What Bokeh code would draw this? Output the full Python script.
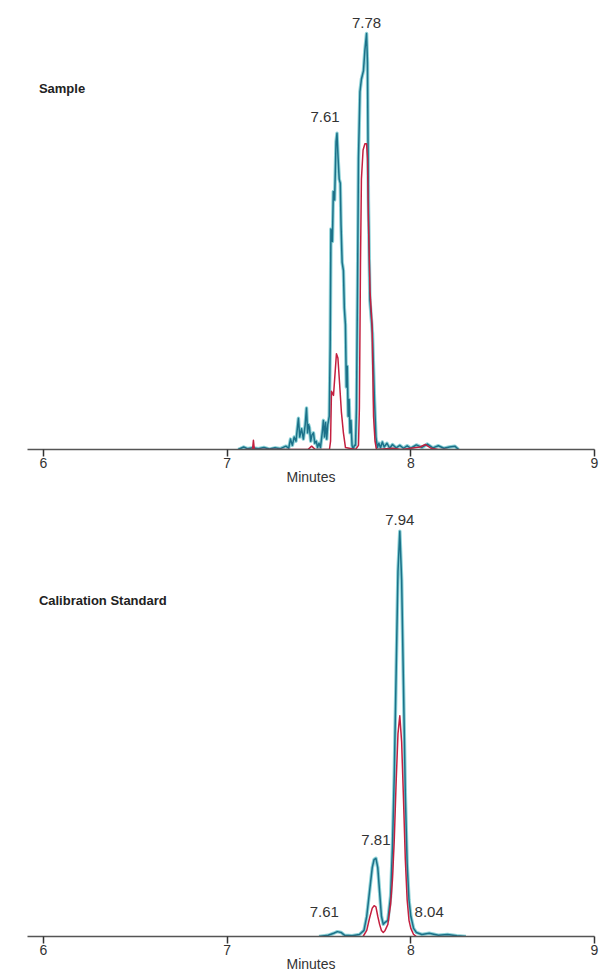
from bokeh.plotting import figure
from bokeh.models import Range1d, FixedTicker, Label, ColumnDataSource
from bokeh.layouts import column
from bokeh.embed import file_html
from bokeh.resources import INLINE
from bokeh.core.properties import value

FONT = "Liberation Sans"

# ---------------- data ----------------
x_ticks = [6, 7, 8, 9]
x_axis_title = "Minutes"

sample_title = "Sample"
sample_teal_x = [7.06, 7.09, 7.11, 7.14, 7.17, 7.20, 7.23, 7.26, 7.29, 7.32, 7.335, 7.345, 7.355, 7.365,
                 7.375, 7.382, 7.388, 7.395, 7.405, 7.415, 7.425, 7.432, 7.438, 7.443, 7.448, 7.455,
                 7.462, 7.470, 7.477, 7.485, 7.492, 7.500, 7.508, 7.515, 7.520, 7.524, 7.530, 7.536,
                 7.542, 7.548, 7.556, 7.561, 7.565, 7.573, 7.578, 7.585, 7.593, 7.598, 7.604, 7.610,
                 7.616, 7.620, 7.626, 7.633, 7.638, 7.644, 7.649, 7.654, 7.659, 7.664, 7.669, 7.674,
                 7.680, 7.686, 7.693, 7.699, 7.704, 7.710, 7.715, 7.723, 7.731, 7.742, 7.750, 7.759,
                 7.764, 7.769, 7.777, 7.791, 7.802, 7.810, 7.818, 7.826, 7.835, 7.845, 7.855, 7.87,
                 7.885, 7.90, 7.92, 7.94, 7.96, 7.98, 8.00, 8.03, 8.06, 8.09, 8.12, 8.15, 8.18, 8.21,
                 8.24, 8.26]
sample_teal_y = [0, 0.6, 0.2, 0.4, 0.2, 0.5, 0.1, 0.4, 0.2, 0.8, 0.3, 2.5, 1, 3,
                 2, 5, 7.5, 3, 5, 2.5, 6, 10, 4, 6, 5.3, 2,
                 3.5, 4, 1.5, 2, 0.5, 1.5, 0.5, 3, 5, 7, 3, 6.5,
                 2.5, 6, 8, 25, 53, 50, 62, 60, 74, 76, 70, 65,
                 64, 54, 45, 43, 34, 30, 15, 20, 8, 12, 4, 7,
                 1, 0, 1, 1, 10, 40, 70, 86, 89, 91, 96, 100,
                 93, 60, 36, 28, 12, 3, 0.5, 1.5, 0.4, 1.8, 0.6, 1.5,
                 0.3, 1.2, 0.4, 1.0, 0.3, 0.9, 0.3, 1.1, 0.5, 1.3, 0.4, 0.9, 0.3, 0.6,
                 0.8, 0]
sample_red_x = [7.10, 7.138, 7.143, 7.148, 7.30, 7.44, 7.46, 7.48, 7.557, 7.563, 7.568, 7.579,
                7.587, 7.595, 7.603, 7.612, 7.622, 7.633, 7.644, 7.699, 7.715, 7.720, 7.726,
                7.731, 7.740, 7.750, 7.759, 7.764, 7.769, 7.778, 7.789, 7.797, 7.805, 7.813,
                7.90, 7.95, 8.05, 8.08, 8.11, 8.15, 8.20]
sample_red_y = [0, 0, 2.2, 0, 0, 0, 0.8, 0, 0, 2, 14, 13,
                18, 23, 22, 16, 9, 4, 0.5, 0, 1, 10, 45,
                65, 72, 73.5, 73.5, 70, 55, 38, 30, 8, 2, 0,
                0.3, 0, 0.6, 1.2, 0.3, 0, 0]
sample_peak_labels = ["7.61", "7.78"]
sample_peak_x = [7.598, 7.759]
sample_peak_y = [76, 100]

cal_title = "Calibration Standard"
cal_teal_x = [7.50, 7.55, 7.58, 7.60, 7.62, 7.64, 7.68, 7.72, 7.745, 7.76, 7.775, 7.79, 7.80, 7.81,
              7.82, 7.83, 7.84, 7.85, 7.86, 7.875, 7.89, 7.90, 7.91, 7.92, 7.93, 7.94, 7.95, 7.96,
              7.97, 7.98, 7.99, 8.00, 8.015, 8.03, 8.06, 8.10, 8.15, 8.20, 8.25, 8.30]
cal_teal_y = [0, 0.3, 0.8, 1.2, 1.0, 0.3, 0.2, 0.5, 1.5, 5, 11, 17, 19, 19.3,
              17, 11, 5, 3, 3.5, 4, 10, 22, 40, 65, 90, 100, 88, 62,
              35, 18, 9, 5, 2, 1, 0.5, 0.8, 0.3, 0.5, 0.2, 0]
cal_red_x = [7.74, 7.76, 7.775, 7.79, 7.80, 7.81, 7.82, 7.83, 7.84, 7.85, 7.86, 7.875, 7.89, 7.90,
             7.91, 7.92, 7.93, 7.94, 7.95, 7.96, 7.97, 7.98, 7.99, 8.00, 8.015, 8.03]
cal_red_y = [0, 1.5, 4.5, 7, 7.6, 7.3, 5, 3, 1.5, 1, 1.5, 3, 8, 14,
             24, 38, 50, 54.5, 48, 34, 19, 9, 4, 2, 0.5, 0]
cal_peak_labels = ["7.61", "7.81", "7.94", "8.04"]
cal_peak_x = [7.60, 7.81, 7.94, 8.04]
cal_peak_y = [1.2, 19.3, 100, 1.0]

# ---------------- styling ----------------
CYAN = "#8fd3d8"
TEAL = "#1b7189"
RED = "#c41f3f"
TXT = "#333333"


def make_panel(title, tx, ty, rx, ry, labs, lx, ly, ldx, ldy, height, b_top, b_bottom,
               y_end, title_y):
    p = figure(width=600, height=height, x_range=Range1d(5.913, 9.0), y_range=Range1d(0, y_end),
               output_backend="svg", toolbar_location=None, y_axis_location=None,
               min_border_left=27, min_border_right=6, min_border_top=b_top,
               min_border_bottom=b_bottom, outline_line_color=None)
    p.grid.visible = False
    ax = p.xaxis[0]
    ax.ticker = FixedTicker(ticks=x_ticks, minor_ticks=[])
    ax.major_tick_out = 7
    ax.major_tick_in = 0
    ax.minor_tick_out = 0
    ax.minor_tick_in = 0
    ax.axis_line_color = "#555555"
    ax.axis_line_width = 1.5
    ax.major_tick_line_color = "#333333"
    ax.major_tick_line_width = 1.5
    ax.major_label_text_font = FONT
    ax.major_label_text_font_size = "14px"
    ax.major_label_text_color = TXT
    ax.major_label_standoff = 1
    ax.axis_label = x_axis_title
    ax.axis_label_text_font = FONT
    ax.axis_label_text_font_style = "normal"
    ax.axis_label_text_font_size = "14px"
    ax.axis_label_text_color = TXT
    ax.axis_label_standoff = -2

    teal_src = ColumnDataSource(dict(x=tx, y=ty))
    red_src = ColumnDataSource(dict(x=rx, y=ry))
    p.line("x", "y", source=teal_src, line_color=CYAN, line_width=3.5, line_join="round")
    p.line("x", "y", source=teal_src, line_color=TEAL, line_width=1.5, line_join="round")
    p.line("x", "y", source=red_src, line_color=RED, line_width=1.5, line_join="round")

    lab_src = ColumnDataSource(dict(x=lx, y=ly, t=labs, dx=ldx, dy=ldy))
    p.text(x="x", y="y", text="t", source=lab_src, x_offset="dx", y_offset="dy",
           text_align="center", text_baseline="middle", text_font=value(FONT),
           text_font_size="15px", text_color=TXT)

    p.add_layout(Label(x=5.975, y=title_y, text=title, text_font=FONT,
                       text_font_style="bold", text_font_size="13px", text_baseline="middle",
                       text_color="#222222"))
    return p


p1 = make_panel(sample_title, sample_teal_x, sample_teal_y, sample_red_x, sample_red_y,
                sample_peak_labels, sample_peak_x, sample_peak_y, [-12, 0], [-16, -11],
                height=487, b_top=12, b_bottom=38, y_end=105.05, title_y=86.8)
p2 = make_panel(cal_title, cal_teal_x, cal_teal_y, cal_red_x, cal_red_y,
                cal_peak_labels, cal_peak_x, cal_peak_y, [-13, 0, 0, 11], [-20, -18, -11, -20],
                height=487, b_top=13, b_bottom=37, y_end=107.6, title_y=83.0)

layout = column(p1, p2)
open("out.html", "w").write(file_html(layout, INLINE))
